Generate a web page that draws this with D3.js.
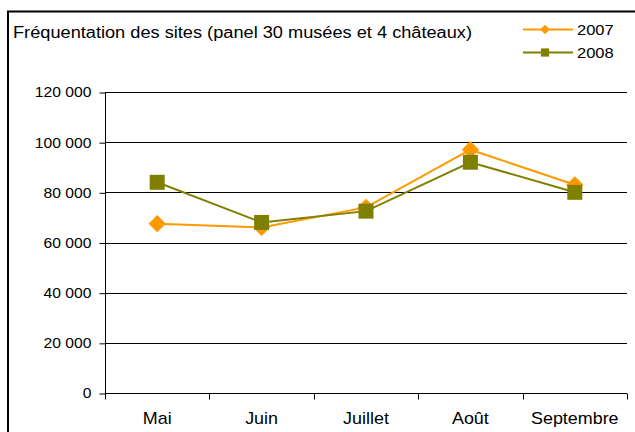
<!DOCTYPE html>
<html>
<head>
<meta charset="utf-8">
<script src="https://cdn.jsdelivr.net/npm/d3@7"></script>
<style>
  body { margin: 0; background: #fff; }
  svg { display: block; font-family: "Liberation Sans", Arial, sans-serif; }
</style>
</head>
<body>
<svg width="635" height="432"></svg>
<script>
const months = ['Mai', 'Juin', 'Juillet', 'Août', 'Septembre'];
const visits2007 = [67500, 66000, 74000, 97000, 83000];
const visits2008 = [84000, 68000, 72500, 92000, 80000];
const yTicks = [0, 20000, 40000, 60000, 80000, 100000, 120000];
const title = 'Fréquentation des sites (panel 30 musées et 4 châteaux)';

const svg = d3.select('svg');

// chart frame (right and bottom edges fall outside the picture)
svg.append('rect')
  .attr('x', 8).attr('y', 11.5)
  .attr('width', 640).attr('height', 440)
  .attr('fill', 'none').attr('stroke', '#000').attr('stroke-width', 2);

const x = d3.scaleBand()
  .domain(months)
  .range([105, 627]);

const y = d3.scaleLinear()
  .domain([0, 120000])
  .range([393, 92]);

const fmt = d => d3.format(',')(d).replace(/,/g, ' ');

// wide-ish text like the original export
const stretch = (sel, sx) => sel.attr('transform', function () {
  const cx = +this.getAttribute('x') || 0;
  return 'translate(' + cx + ',0) scale(' + sx + ',1) translate(' + (-cx) + ',0)';
});

// gridlines
svg.append('g')
  .selectAll('line')
  .data(yTicks.slice(1))
  .join('line')
  .attr('x1', 105).attr('x2', 627)
  .attr('y1', d => Math.round(y(d)) + 0.5)
  .attr('y2', d => Math.round(y(d)) + 0.5)
  .attr('stroke', '#000').attr('stroke-width', 1);

// y axis
const yAxis = svg.append('g')
  .attr('transform', 'translate(105.5,0.5)')
  .call(d3.axisLeft(y).tickValues(yTicks).tickFormat(fmt).tickSize(6).tickPadding(8));
yAxis.select('.domain').remove();
yAxis.append('line').attr('x1', 0).attr('x2', 0).attr('y1', y(120000)).attr('y2', y(0)).attr('stroke', '#000');
yAxis.selectAll('text')
  .attr('font-size', 14)
  .attr('fill', '#000')
  .attr('font-family', 'Liberation Sans, Arial, sans-serif')
  .call(stretch, 1.12);

// x axis
const xAxis = svg.append('g')
  .attr('transform', 'translate(0,' + (Math.round(y(0)) + 0.5) + ')');
xAxis.append('line').attr('x1', 105).attr('x2', 627).attr('stroke', '#000');
xAxis.selectAll('.tk')
  .data(months.concat(['end']))
  .join('line')
  .attr('class', 'tk')
  .attr('x1', (d, i) => i < months.length ? Math.round(x(d)) + 0.5 : 627.5)
  .attr('x2', (d, i) => i < months.length ? Math.round(x(d)) + 0.5 : 627.5)
  .attr('y1', 0).attr('y2', 6)
  .attr('stroke', '#000');
xAxis.selectAll('text')
  .data(months)
  .join('text')
  .attr('x', d => x(d) + x.bandwidth() / 2)
  .attr('y', 31)
  .attr('text-anchor', 'middle')
  .attr('font-size', 16)
  .text(d => d)
  .call(stretch, 1.12);

const diamond = {
  draw(ctx, size) {
    const r = Math.sqrt(size / 2);
    ctx.moveTo(0, -r); ctx.lineTo(r, 0); ctx.lineTo(0, r); ctx.lineTo(-r, 0); ctx.closePath();
  }
};

const series = [
  { name: '2007', values: visits2007, color: '#FF9900', shape: diamond, size: 150 },
  { name: '2008', values: visits2008, color: '#808000', shape: d3.symbolSquare, size: 225 }
];

const line = d3.line()
  .x((d, i) => x(months[i]) + x.bandwidth() / 2)
  .y(d => y(d));

series.forEach(s => {
  svg.append('path')
    .datum(s.values)
    .attr('d', line)
    .attr('fill', 'none')
    .attr('stroke', s.color)
    .attr('stroke-width', 2);

  svg.append('g')
    .selectAll('path')
    .data(s.values)
    .join('path')
    .attr('transform', (d, i) => 'translate(' + (x(months[i]) + x.bandwidth() / 2) + ',' + y(d) + ')')
    .attr('d', d3.symbol().type(s.shape).size(s.size))
    .attr('fill', s.color);
});

// title
svg.append('text')
  .attr('x', 13).attr('y', 38)
  .attr('font-size', 16)
  .attr('textLength', 459)
  .attr('lengthAdjust', 'spacingAndGlyphs')
  .text(title);

// legend
series.forEach((s, i) => {
  const ly = 29.5 + i * 23;
  svg.append('line')
    .attr('x1', 523).attr('x2', 573)
    .attr('y1', ly).attr('y2', ly)
    .attr('stroke', s.color).attr('stroke-width', 2);
  svg.append('path')
    .attr('transform', 'translate(545,' + ly + ')')
    .attr('d', d3.symbol().type(s.shape).size(s.size * 0.3))
    .attr('fill', s.color);
  svg.append('text')
    .attr('x', 577).attr('y', ly + 5.5)
    .attr('font-size', 15)
    .text(s.name)
    .call(stretch, 1.1);
});
</script>
</body>
</html>
